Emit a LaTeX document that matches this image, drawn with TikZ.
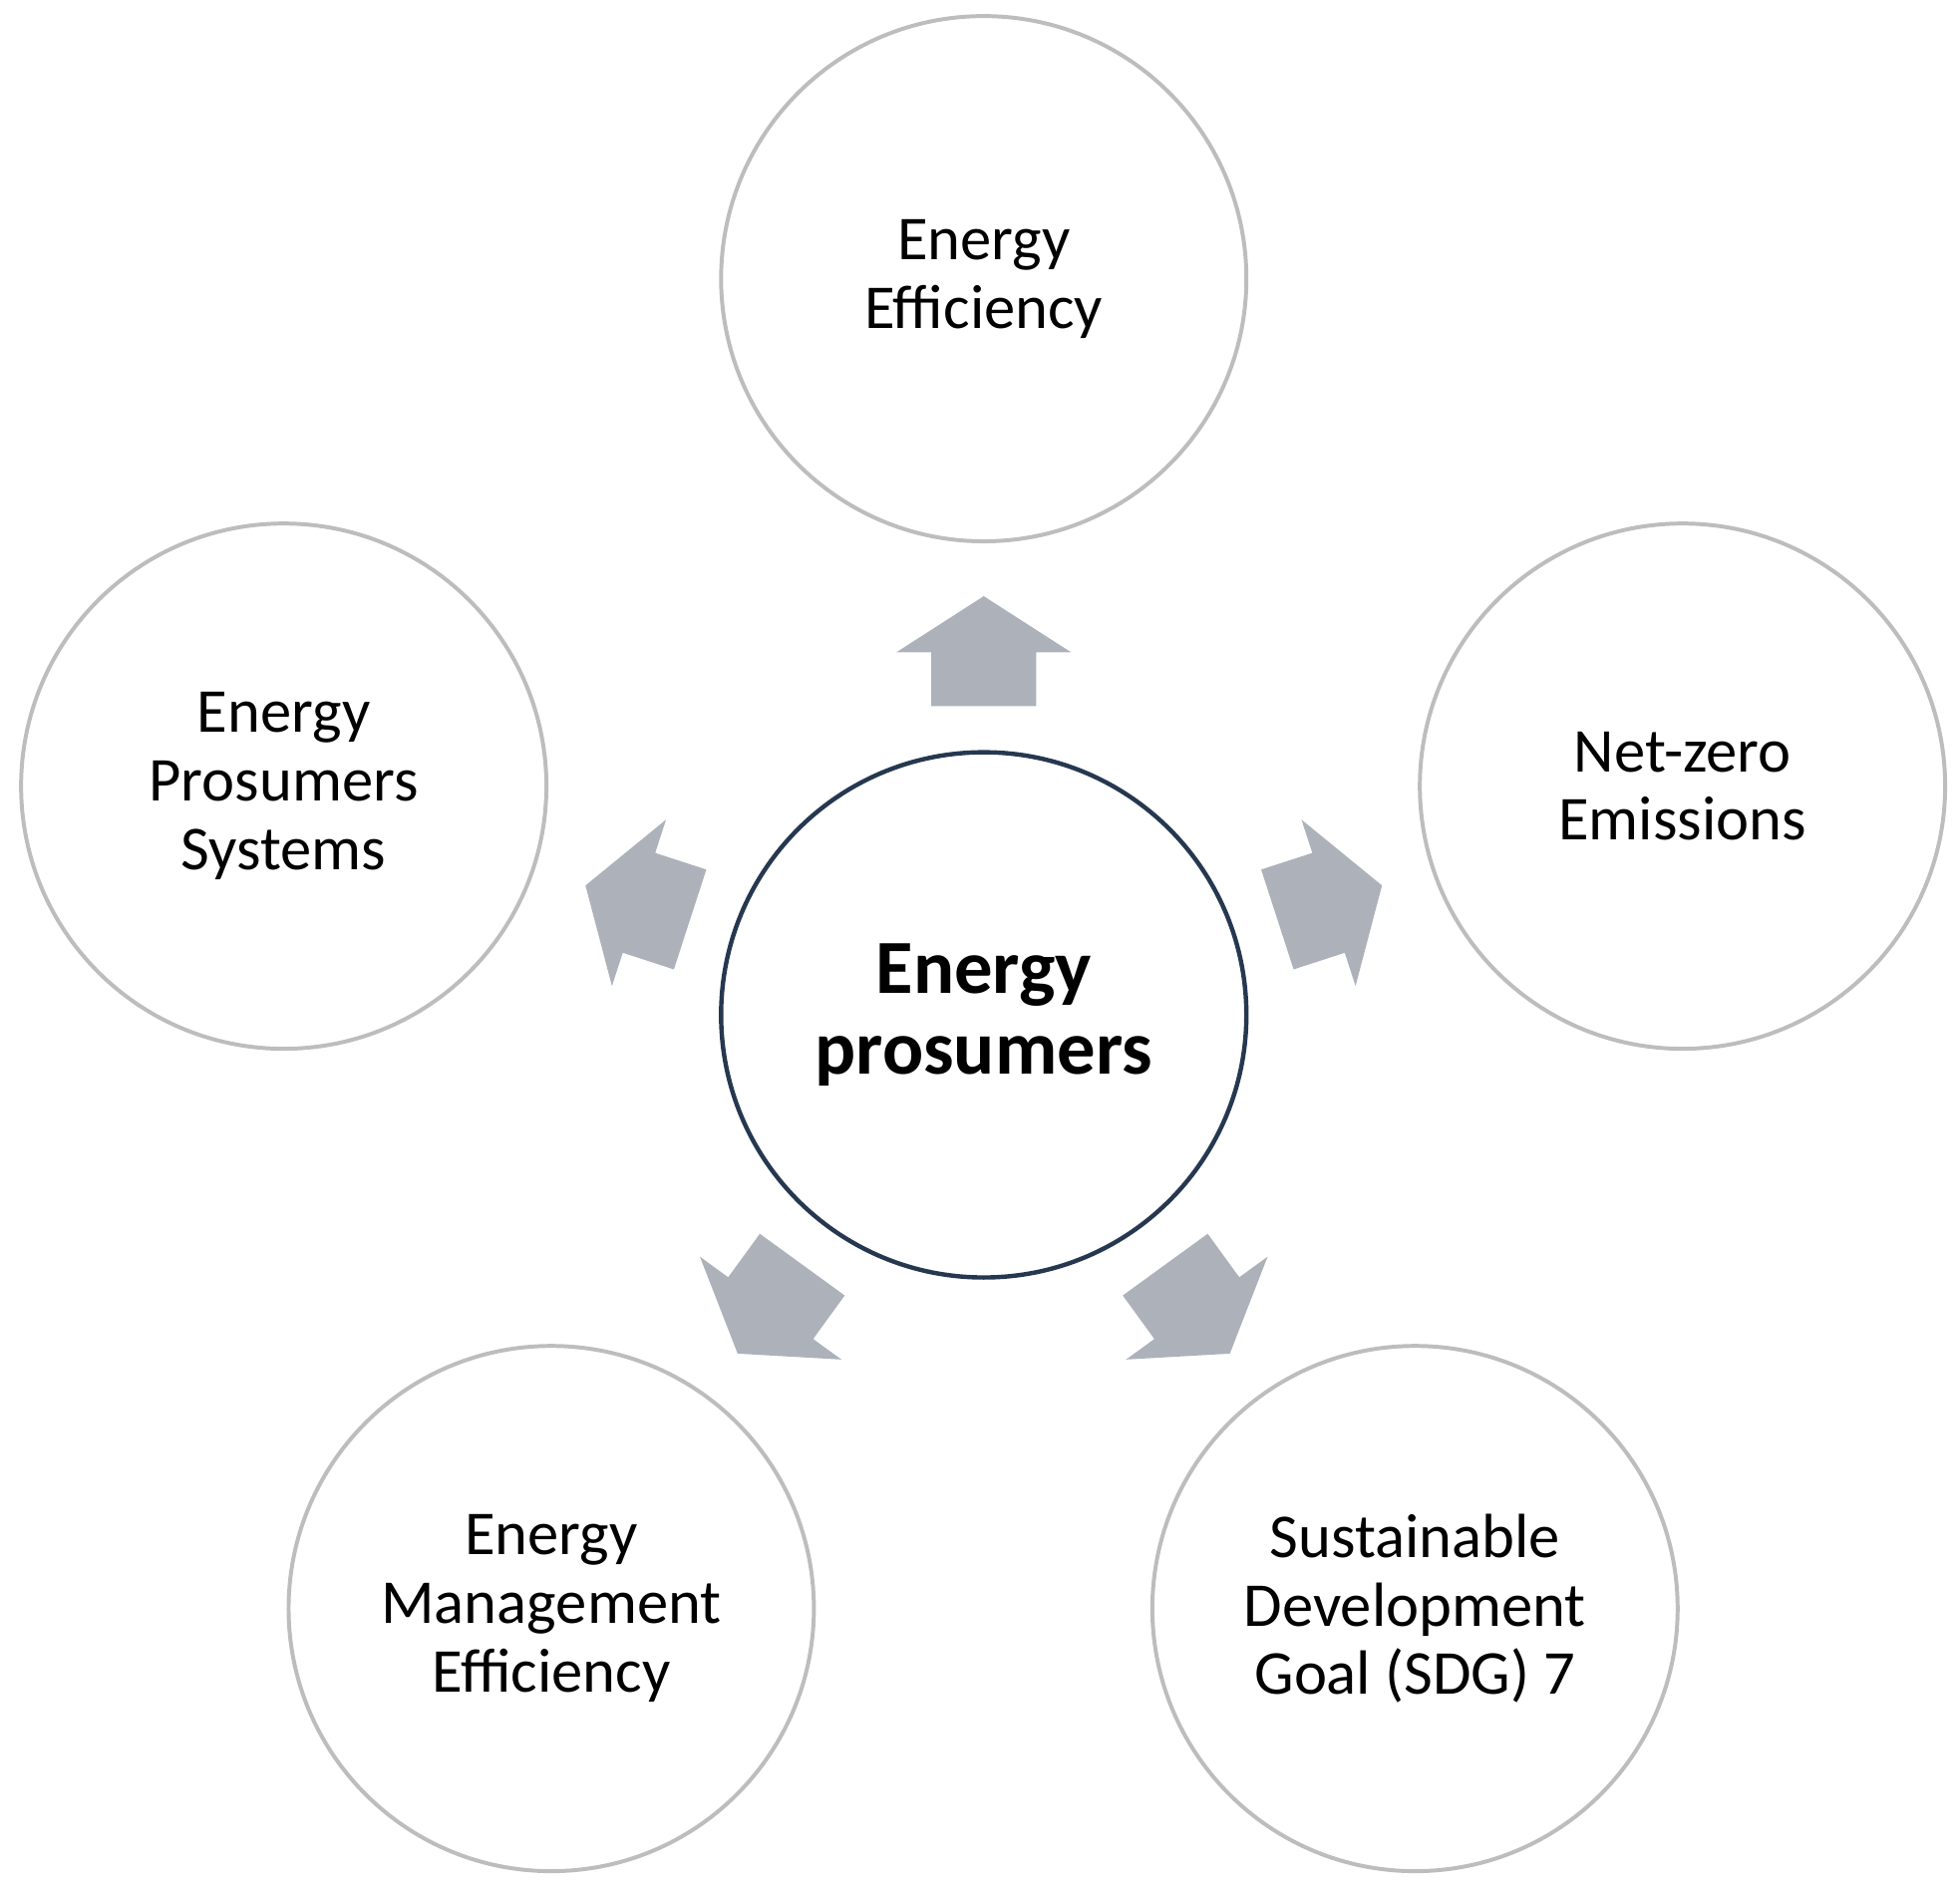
\documentclass[tikz,border=0pt]{standalone}
\usepackage{fontspec}
\setmainfont{Carlito}
\definecolor{arrowgray}{HTML}{ADB2BA}
\definecolor{ringgray}{HTML}{BDBDBD}
\definecolor{navy}{HTML}{263850}
\begin{document}
\begin{tikzpicture}[x=0.01cm,y=-0.01cm,
  outer/.style={circle,draw=ringgray,line width=0.9pt,minimum size=4.2cm,align=center,font=\fontsize{14.2}{15.6}\selectfont,inner sep=0pt},
  inner/.style={circle,draw=navy,line width=1pt,minimum size=4.2cm,align=center,font=\fontsize{17.4}{18.4}\selectfont\bfseries,inner sep=0pt}]
\useasboundingbox (0,0) rectangle (1568,1513);
\node[inner] (c) at (787,812) {Energy\\prosumers};
\node[outer] (t) at (787,223) {Energy\\Efficiency};
\node[outer] (r) at (1346,629) {Net-zero\\Emissions};
\node[outer] (l) at (227,629) {Energy\\Prosumers\\Systems};
\node[outer] (bl) at (441,1287) {Energy\\Management\\Efficiency};
\node[outer] (br) at (1132,1287) {Sustainable\\Development\\Goal (SDG) 7};
\foreach \a in {90,18,-54,-126,162}{
  \begin{scope}[shift={(c.center)},rotate=\a]
    \fill[arrowgray] (247,-42) -- (290,-42) -- (290,-70) -- (335,0) -- (290,70) -- (290,42) -- (247,42) -- cycle;
  \end{scope}
}
\end{tikzpicture}
\end{document}
